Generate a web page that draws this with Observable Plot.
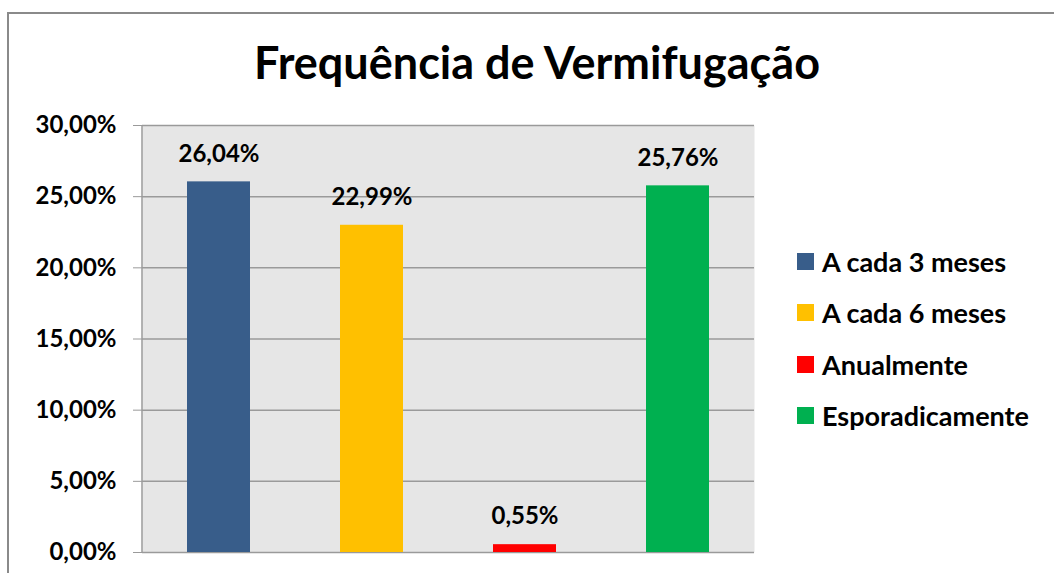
<!DOCTYPE html>
<html>
<head>
<meta charset="utf-8">
<script src="https://cdn.jsdelivr.net/npm/d3@7"></script>
<script src="https://cdn.jsdelivr.net/npm/@observablehq/plot@0.6"></script>
<style>
  html, body { margin: 0; padding: 0; background: #fff; }
  #wrap { position: relative; width: 1054px; height: 573px; overflow: hidden; font-family: Lato, sans-serif; }
  #border { position: absolute; left: 7px; top: 12px; width: 1100px; height: 620px; border: 2px solid #8a8a8a; box-sizing: border-box; }
  #title { position: absolute; left: 0; width: 1074px; top: 40px; text-align: center; font-weight: bold; font-size: 45px; color: #000; line-height: 1; }
  #chart { position: absolute; left: 0; top: 0; }
  #legend { position: absolute; left: 797px; top: 236px; font-weight: bold; font-size: 27px; color: #000; }
  .item { display: flex; align-items: center; height: 51.3px; }
  .sw { width: 17px; height: 17px; margin-right: 8px; }
</style>
</head>
<body>
<div id="wrap">
  <div id="border"></div>
  <div id="chart"></div>
  <div id="title"></div>
  <div id="legend"></div>
</div>
<script>
const title = "Frequência de Vermifugação";
const categories = ["A cada 3 meses", "A cada 6 meses", "Anualmente", "Esporadicamente"];
const values = [26.04, 22.99, 0.55, 25.76];
const colors = ["#385d8a", "#ffc000", "#ff0000", "#00b050"];
const yTicks = [0, 5, 10, 15, 20, 25, 30];

const data = categories.map((c, i) => ({category: c, value: values[i]}));
const fmt = d => d.toFixed(2).replace(".", ",") + "%";

document.getElementById("title").textContent = title;

const chart = Plot.plot({
  width: 1054,
  height: 573,
  marginLeft: 142,
  marginRight: 300,
  marginTop: 125,
  marginBottom: 21,
  style: {fontFamily: "Lato, sans-serif", fontWeight: "bold", fontSize: "24px", color: "#000", background: "transparent", overflow: "visible"},
  x: {domain: categories, paddingInner: 0.59, paddingOuter: 0.295, axis: null},
  y: {domain: [0, 30], ticks: yTicks},
  color: {domain: categories, range: colors},
  marks: [
    Plot.frame({fill: "#e6e6e6"}),
    Plot.ruleY(yTicks, {stroke: "#9a9a9a", strokeWidth: 1.5}),
    Plot.axisY({ticks: yTicks, tickFormat: fmt, tickSize: 9, tickPadding: 17, stroke: "#9a9a9a", fill: "#000", label: null, fontSize: 24, fontWeight: "bold"}),
    Plot.barY(data, {x: "category", y: "value", fill: "category"}),
    Plot.text(data, {x: "category", y: "value", text: d => fmt(d.value), dy: -28, fill: "#000", fontSize: 24, fontWeight: "bold"})
  ]
});

// left edge of the plotting area
const xr = chart.scale("x").range;
const yr = chart.scale("y").range;
d3.select(chart).append("line")
  .attr("x1", xr[0]).attr("x2", xr[0])
  .attr("y1", yr[0]).attr("y2", yr[1])
  .attr("stroke", "#9a9a9a").attr("stroke-width", 1.5);

document.getElementById("chart").appendChild(chart);

const legend = d3.select("#legend");
categories.forEach((c, i) => {
  const it = legend.append("div").attr("class", "item");
  it.append("div").attr("class", "sw").style("background", colors[i]);
  it.append("span").text(c);
});
</script>
</body>
</html>
